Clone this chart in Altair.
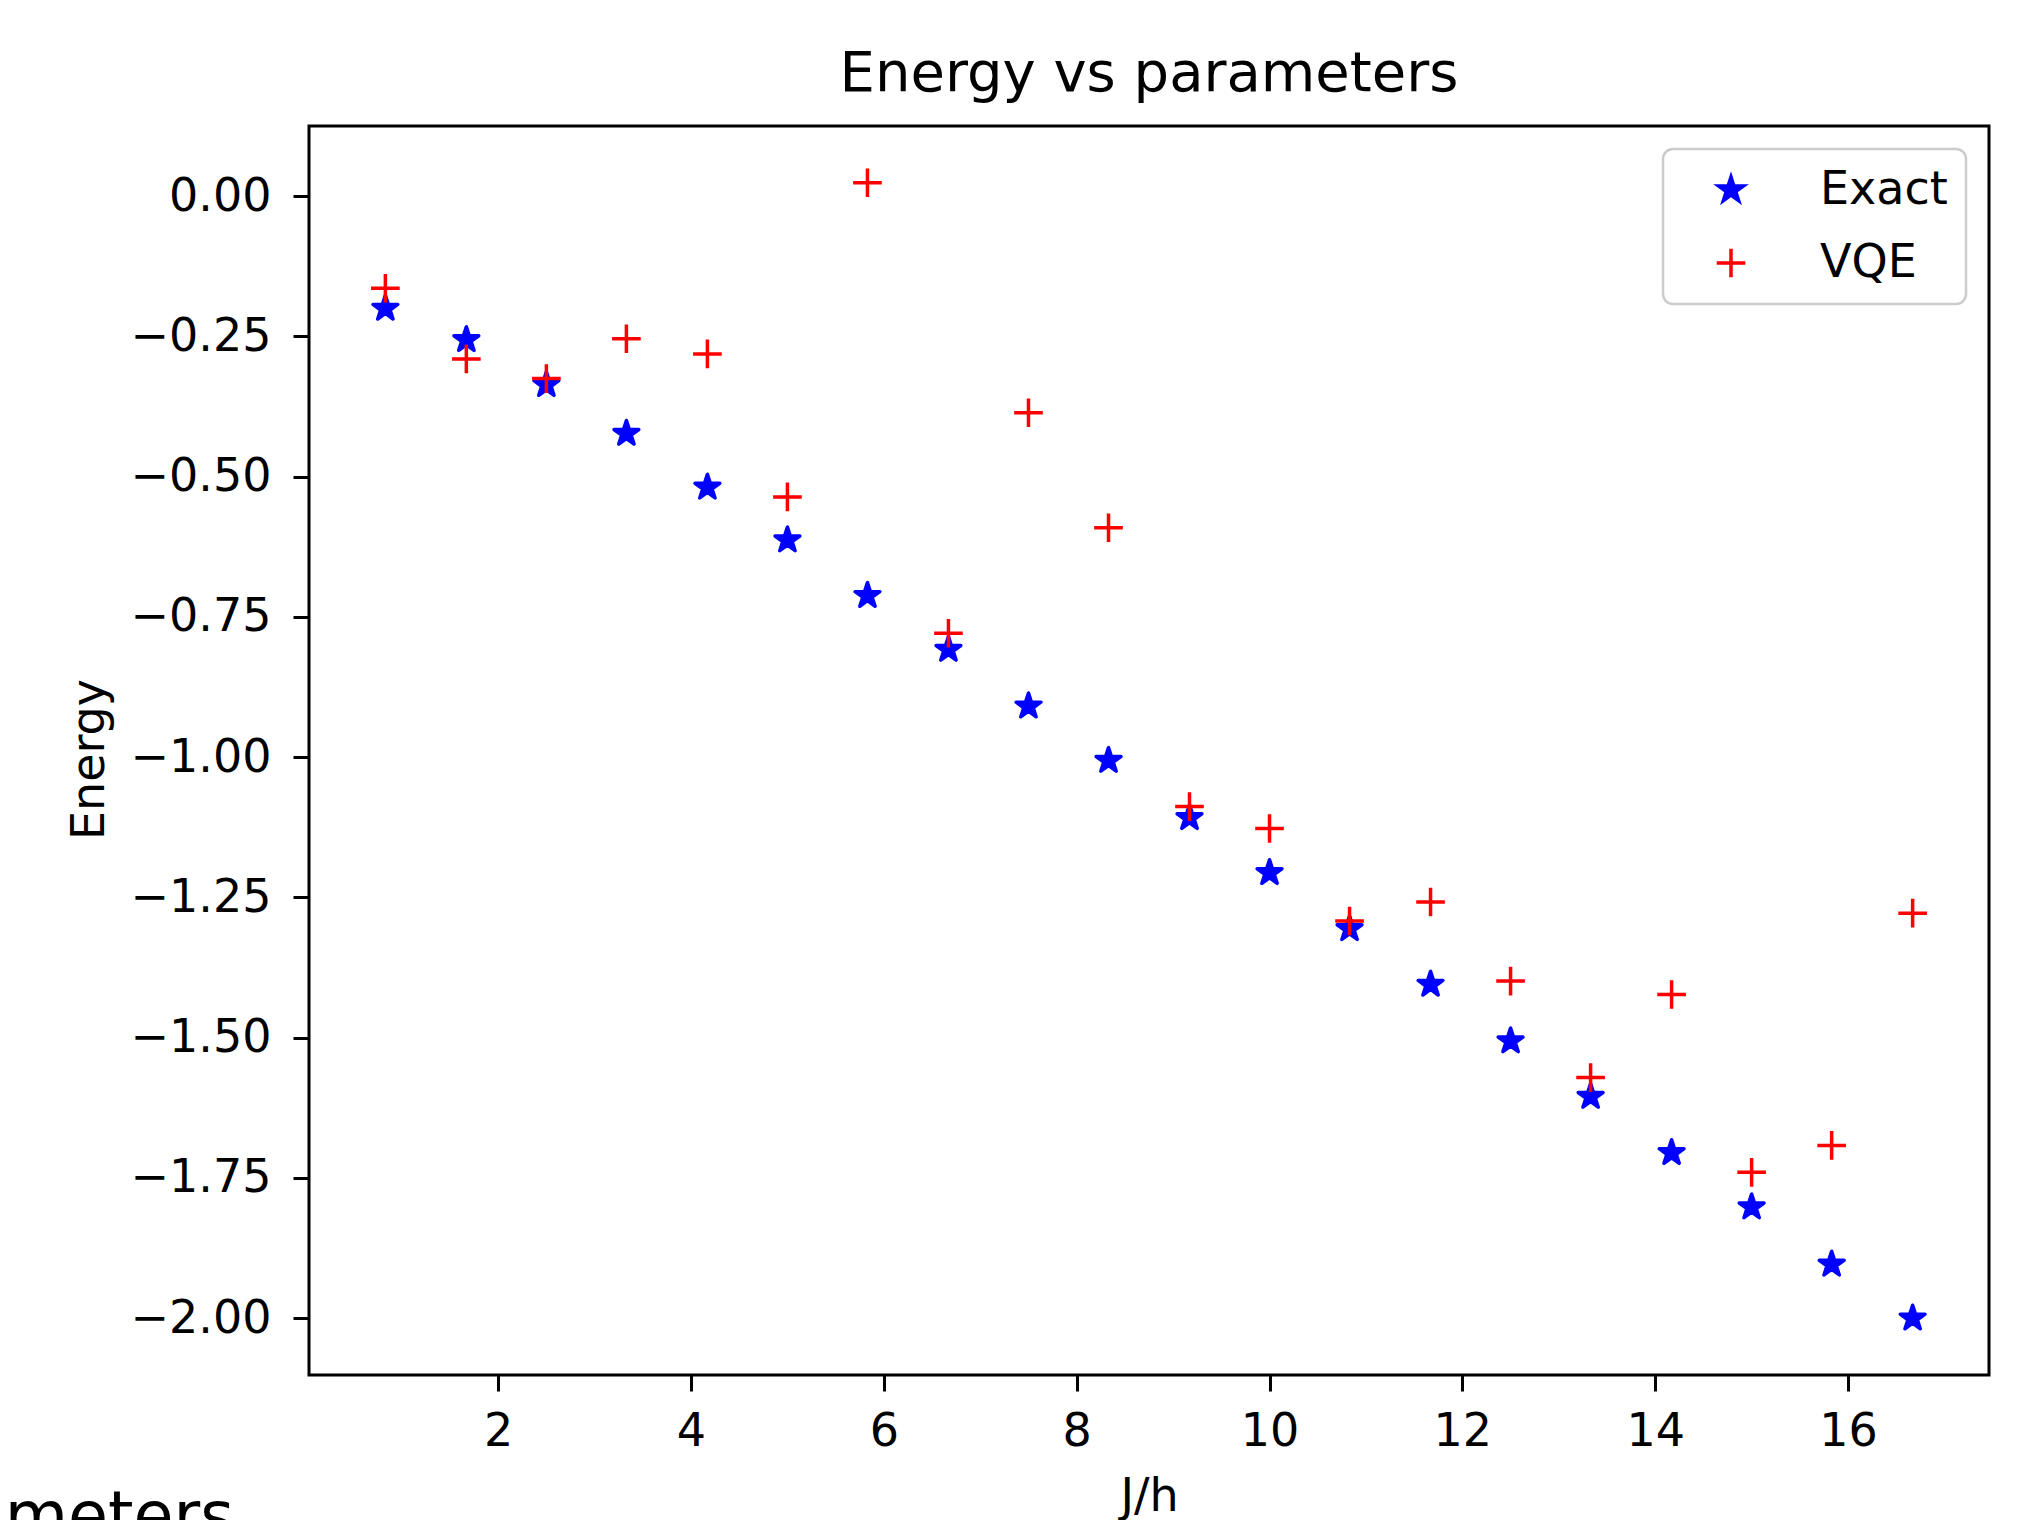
import altair as alt
import pandas as pd

# ---- data ----
jh = [0.83, 1.67, 2.5, 3.33, 4.17, 5.0, 5.83, 6.67, 7.5, 8.33,
      9.17, 10.0, 10.83, 11.67, 12.5, 13.33, 14.17, 15.0, 15.83, 16.67]
exact = [-0.200, -0.256, -0.336, -0.423, -0.519, -0.613, -0.712, -0.808, -0.909, -1.006,
         -1.108, -1.206, -1.306, -1.405, -1.506, -1.605, -1.705, -1.802, -1.904, -2.000]
vqe = [-0.164, -0.290, -0.325, -0.254, -0.281, -0.536, 0.024, -0.779, -0.386, -0.591,
       -1.088, -1.127, -1.292, -1.258, -1.399, -1.571, -1.423, -1.740, -1.692, -1.278]
series_names = ["Exact", "VQE"]
series_colors = ["#0000ff", "#ff0000"]
series_fills = ["#0000ff", "transparent"]
x_ticks = [2, 4, 6, 8, 10, 12, 14, 16]
y_ticks = [0.0, -0.25, -0.5, -0.75, -1.0, -1.25, -1.5, -1.75, -2.0]
chart_title = "Energy vs parameters"
x_title = "J/h"
y_title = "Energy"
cut_caption = ["parameters"]

# marker shapes (unit box -1..1) and sizes
STAR = ("M0,-1L-0.2245,-0.309L-0.9511,-0.309L-0.3633,0.118L-0.5878,0.809"
        "L0,0.382L0.5878,0.809L0.3633,0.118L0.9511,-0.309L0.2245,-0.309Z")
PLUS = "M-1,0L1,0M0,-1L0,1"
marker_sizes = [680, 820]

rows = []
for name, vals in zip(series_names, [exact, vqe]):
    for xv, yv in zip(jh, vals):
        rows.append({"jh": xv, "energy": yv, "series": name})
df = pd.DataFrame(rows)

allx = jh
ally = exact + vqe
xpad = 0.05 * (max(allx) - min(allx))
ypad = 0.05 * (max(ally) - min(ally))
xdom = [min(allx) - xpad, max(allx) + xpad]
ydom = [min(ally) - ypad, max(ally) + ypad]

FONT = "DejaVu Sans"
leg = alt.Legend(title=None)

points = alt.Chart(df).mark_point(
    strokeWidth=3.5, opacity=1, strokeJoin="round"
).encode(
    x=alt.X("jh:Q", title=x_title,
            scale=alt.Scale(domain=xdom, nice=False, zero=False),
            axis=alt.Axis(values=x_ticks, format="d", labelPadding=18,
                          titlePadding=20, labelFlush=False)),
    y=alt.Y("energy:Q", title=y_title,
            scale=alt.Scale(domain=ydom, nice=False, zero=False),
            axis=alt.Axis(values=y_ticks, format=".2f", labelPadding=22,
                          titleX=-206, titleY=633, titleBaseline="alphabetic",
                          titleAlign="center", titleAngle=270)),
    shape=alt.Shape("series:N", scale=alt.Scale(domain=series_names, range=[STAR, PLUS]), legend=leg),
    stroke=alt.Stroke("series:N", scale=alt.Scale(domain=series_names, range=series_colors), legend=leg),
    fill=alt.Fill("series:N", scale=alt.Scale(domain=series_names, range=series_fills), legend=leg),
    size=alt.Size("series:N", scale=alt.Scale(domain=series_names, range=marker_sizes), legend=leg),
)

caption = alt.Chart(pd.DataFrame({"t": cut_caption})).mark_text(
    align="left", baseline="alphabetic", fontSize=65, font=FONT, color="black"
).encode(
    text="t:N", x=alt.value(-452), y=alt.value(1412)
)

chart = alt.layer(points, caption).properties(
    width=1680,
    height=1249,
    title=alt.Title(chart_title, fontSize=56, font=FONT, fontWeight="normal",
                    color="black", baseline="alphabetic", offset=-21, anchor="middle"),
    autosize=alt.AutoSizeParams(type="none"),
    padding={"left": 301, "top": 118, "right": 16, "bottom": 170},
).configure_view(
    stroke="black", strokeWidth=3
).configure_axis(
    domain=False, grid=False, ticks=True, tickColor="black", tickWidth=3, tickSize=16,
    labelFont=FONT, labelFontSize=46, labelColor="black",
    titleFont=FONT, titleFontSize=46, titleFontWeight="normal", titleColor="black",
    labelOverlap=False
).configure_legend(
    orient="top-right", offset=23, padding=18,
    fillColor="rgba(255,255,255,0.8)", strokeColor="#cccccc", strokeWidth=2.5,
    cornerRadius=10, labelFont=FONT, labelFontSize=46, labelColor="black",
    labelOffset=66, symbolOffset=27, rowPadding=27,
    symbolStrokeWidth=3.5
)

chart.save("out.html", embed_options={"renderer": "svg", "actions": False})
